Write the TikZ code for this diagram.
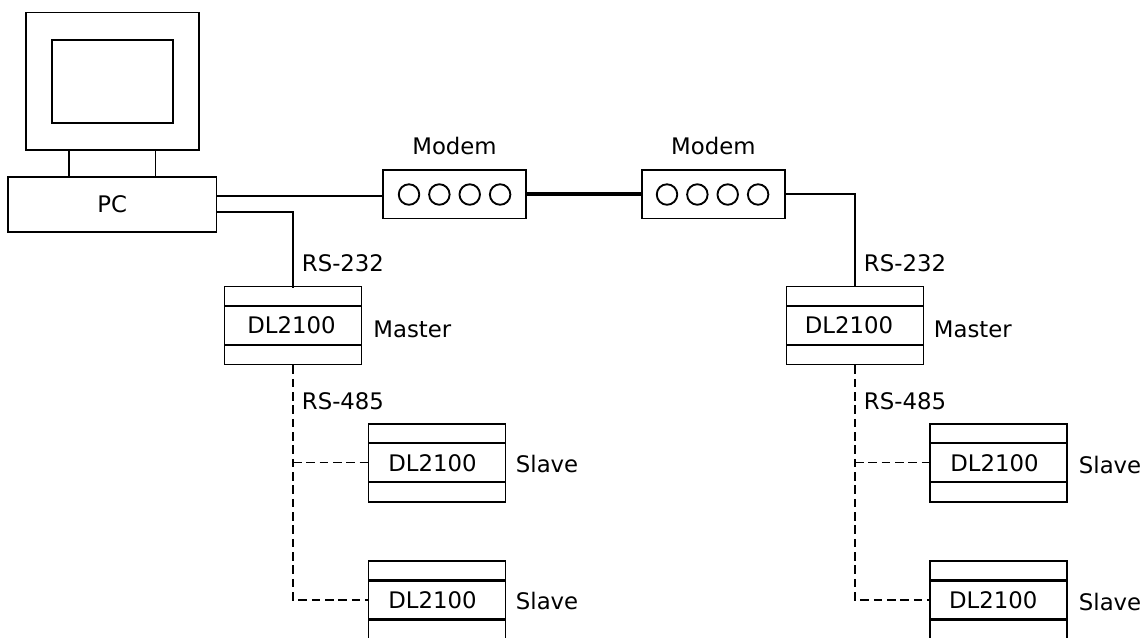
\documentclass[tikz,border=0pt]{standalone}
\usepackage{fontspec}
\setmainfont{DejaVu Sans}
\usetikzlibrary{positioning}
\tikzset{
  box/.style={draw,inner sep=0pt,minimum width=#1*.75pt},
  bandmid/.style={box=137,minimum height=38.4*.75pt},
  bandend/.style={box=137,minimum height=19.3*.75pt},
  lamp/.style={draw,circle,inner sep=0pt,minimum size=20.5*.75pt},
  modem/.style={box=143,minimum height=48.5*.75pt},
  lab/.style={inner sep=0pt,font=\fontsize{17.1pt}{20pt}\selectfont},
  bus/.style={dash pattern=on 6.5pt off 3.5pt,line width=1pt}
}
\newcommand{\dlunit}[4]{
  \node[bandmid](#1)at(#2,#3){};
  \node[bandend,above=-1pt of #1](#1t){};
  \node[bandend,below=-1pt of #1](#1b){};
  \node[lab](#1l)at(#2+#4,#3){DL2100};
}
\begin{document}
\begin{tikzpicture}[x=.75pt,y=-.75pt,line width=1.4pt]
\clip(0,0)rectangle(1148,637);
% computer
\node[box=173,minimum height=137.5*.75pt](mon)at(112.5,81.2){};
\node[box=121,minimum height=83*.75pt](scr)at(112.5,81.5){};
\node[box=208.5,minimum height=55*.75pt,lab](pc)at(112.2,204.5){PC};
\coordinate(stl)at(69,160);
\coordinate(str)at(155.5,160);
\draw(stl|-mon.south)--(stl|-pc.north);
\draw(str|-mon.south)--(str|-pc.north);
\coordinate(pca)at(216.5,196);
\coordinate(pcb)at(216.5,212);
% modems
\node[modem](mda)at(454.5,194.3){};
\node[modem](mdb)at(713.3,194.3){};
\node[lab,above=10pt of mda](mdal){Modem};
\node[lab,above=10pt of mdb](mdbl){Modem};
\node[lamp](a1)at(409,194.5){};
\node[lamp,right=8*.75pt of a1](a2){};
\node[lamp,right=8*.75pt of a2](a3){};
\node[lamp,right=8*.75pt of a3](a4){};
\node[lamp](b1)at(667,194.5){};
\node[lamp,right=8*.75pt of b1](b2){};
\node[lamp,right=8*.75pt of b2](b3){};
\node[lamp,right=8*.75pt of b3](b4){};
% DL2100 units
\dlunit{ma}{293}{325.5}{-1.5}
\dlunit{sa}{437}{462.7}{-4.5}
\dlunit{sb}{437}{600}{-4.5}
\dlunit{mb}{855}{325.5}{-6}
\dlunit{sc}{998.5}{462.7}{-4}
\dlunit{sd}{998.5}{600}{-5.3}
% links
\draw(pca)--(pca-|mda.west);
\draw[shorten >=-2pt](pcb)-|(ma.north|-mat.north);
\draw[line width=3.2pt](mda)--(mdb);
\draw(mdb.east)-|(mb.north|-mbt.north);
\draw[bus](mab.south)|-(sb.west);
\draw[bus](mab.south|-sa.west)--(sa.west);
\draw[bus](mbb.south)|-(sd.west);
\draw[bus](mbb.south|-sc.west)--(sc.west);
% labels
\node[lab,anchor=west](rsa)at(301,263){RS-232};
\node[lab,anchor=west](rsb)at(863,263){RS-232};
\node[lab,anchor=west](rsc)at(301,401){RS-485};
\node[lab,anchor=west](rsd)at(863,401){RS-485};
\node[lab,anchor=west](mal)at(372.5,329){Master};
\node[lab,anchor=west](mbl)at(933,329){Master};
\node[lab,anchor=west](sal)at(515,464){Slave};
\node[lab,anchor=west](sbl)at(515,601){Slave};
\node[lab,anchor=west](scl)at(1078,465){Slave};
\node[lab,anchor=west](sdl)at(1078,602){Slave};
\end{tikzpicture}
\end{document}
